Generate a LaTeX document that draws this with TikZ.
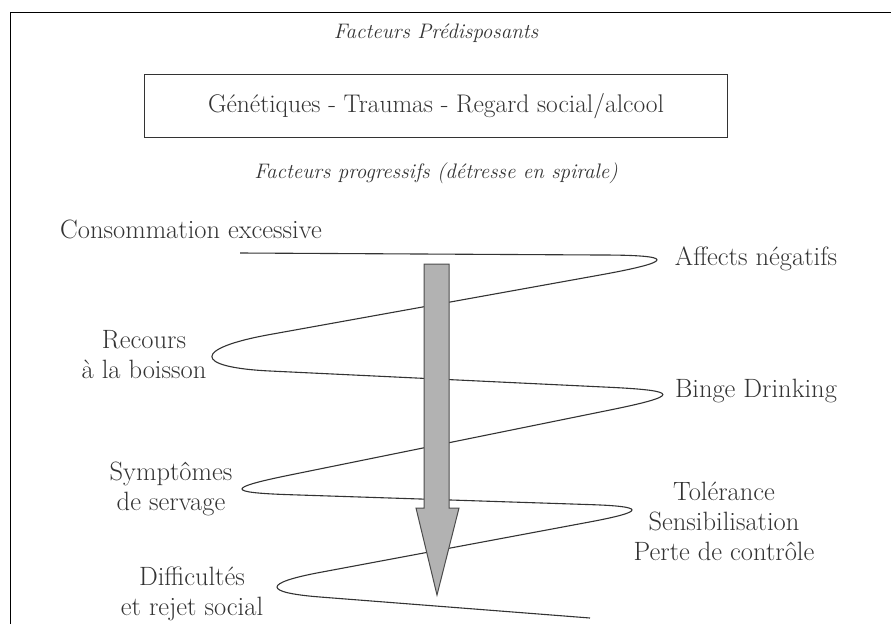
\documentclass[tikz,border=0pt]{standalone}
\usepackage{tikz}

\definecolor{encre}{HTML}{333333}
\definecolor{grisfleche}{HTML}{B2B2B2}

\tikzset{
	etiquette/.style={anchor=base, inner sep=0pt, align=center, text=encre,
		font=\fontsize{26.5}{30}\selectfont},
	titre/.style={anchor=base, inner sep=0pt, text=encre,
		font=\fontsize{21}{26}\selectfont\itshape},
	boite/.style={draw=encre, line width=1.2pt, minimum width=583pt, minimum height=63pt,
		text=encre, font=\fontsize{25.5}{30}\selectfont},
	spirale/.style={draw=encre, line width=1.1pt},
	fleche/.style={fill=grisfleche, draw=black!70, line width=1pt}
}

\begin{document}
\begin{tikzpicture}[x=1pt, y=-1pt]
\useasboundingbox (0,0) rectangle (891,624);

% Cadre
	\draw[line width=1.5pt] (10.5,624) -- (10.5,12.5) -- (891,12.5);

% Facteurs predisposants
	\node[titre] (predisp) at (436,38) {Facteurs Prédisposants};
	\node[boite] (facteurs) at (436,106) {Génétiques - Traumas - Regard social/alcool};
	\node[titre] (progressifs) at (436,178) {Facteurs progressifs (détresse en spirale)};

% Spirale
	\draw[spirale] (240,253) -- (600,255)
		.. controls (676,255) and (676,261.3) .. (600,275)
		-- (270,334.5)
		.. controls (192.5,348.4) and (192.5,367.3) .. (270,371)
		-- (610,387.3)
		.. controls (680.5,390.7) and (680.5,395.7) .. (610,410)
		-- (290,475)
		.. controls (226,488) and (226,492.6) .. (290,494.7)
		-- (590,504.6)
		.. controls (646,506.4) and (646,511.4) .. (590,521.9)
		-- (320,572.4)
		.. controls (262.7,583.1) and (262.7,592.5) .. (320,597)
		-- (590,618);

% Fleche
	\filldraw[fleche] (424,264) -- (449,264) -- (449,508) -- (459,508) -- (437,595)
		-- (416,508) -- (424,508) -- cycle;

% Etiquettes
	\node[etiquette] (conso) at (191,238) {Consommation excessive};
	\node[etiquette] (affects) at (756,265) {Affects négatifs};
	\node[etiquette] (recours) at (144,378) {Recours\\à la boisson};
	\node[etiquette] (binge) at (756,397) {Binge Drinking};
	\node[etiquette] (symptomes) at (171,510) {Symptômes\\de servage};
	\node[etiquette] (tolerance) at (724,560) {Tolérance\\Sensibilisation\\Perte de contrôle};
	\node[etiquette] (difficultes) at (192,615) {Difficultés\\et rejet social};

\end{tikzpicture}
\end{document}
